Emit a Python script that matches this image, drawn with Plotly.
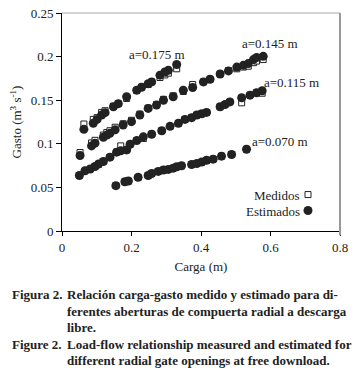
import plotly.graph_objects as go

# ---- data ----
x_175 = [0.063, 0.090, 0.101, 0.114, 0.124, 0.148, 0.162, 0.186, 0.215, 0.229, 0.248, 0.258, 0.282, 0.296, 0.306, 0.330]
est_175 = [0.1166, 0.1236, 0.128, 0.133, 0.1357, 0.1425, 0.146, 0.154, 0.1615, 0.1648, 0.169, 0.171, 0.1787, 0.1824, 0.1844, 0.191]
med_175 = [0.1227, 0.1280, 0.130, 0.136, 0.138, 0.143, 0.146, 0.152, 0.161, 0.165, 0.168, 0.171, 0.176, 0.179, 0.181, 0.186]

x_145 = [0.052, 0.085, 0.095, 0.119, 0.129, 0.138, 0.153, 0.176, 0.200, 0.224, 0.248, 0.272, 0.292, 0.320, 0.349,
         0.376, 0.407, 0.426, 0.455, 0.479, 0.503, 0.522, 0.536, 0.551, 0.560, 0.579]
est_145 = [0.0866, 0.0976, 0.1007, 0.1075, 0.110, 0.112, 0.116, 0.1216, 0.1254, 0.133, 0.1406, 0.1444, 0.150, 0.154, 0.1615,
           0.1646, 0.171, 0.174, 0.180, 0.1836, 0.188, 0.190, 0.192, 0.1966, 0.1990, 0.2003]
med_145 = [0.090, 0.101, 0.104, 0.110, 0.113, 0.115, 0.119, 0.123, 0.127, 0.134, 0.141, 0.145, 0.151, 0.155, 0.160,
           0.168, 0.171, 0.174, 0.180, 0.184, 0.186, 0.188, 0.189, 0.193, 0.1949, 0.1966]

x_115 = [0.050, 0.066, 0.081, 0.095, 0.105, 0.119, 0.138, 0.157, 0.169, 0.186, 0.196, 0.215, 0.234, 0.258, 0.287,
         0.311, 0.335, 0.354, 0.373, 0.388, 0.402, 0.416, 0.455, 0.469, 0.483, 0.517, 0.541, 0.560, 0.576]
est_115 = [0.0637, 0.069, 0.071, 0.074, 0.0767, 0.0797, 0.0847, 0.0904, 0.0919, 0.093, 0.0995, 0.1037, 0.108, 0.111, 0.115,
           0.120, 0.1235, 0.128, 0.130, 0.133, 0.1345, 0.136, 0.1425, 0.145, 0.148, 0.1528, 0.1558, 0.1585, 0.1608]
med_115 = [0.0637, 0.069, 0.071, 0.074, 0.0767, 0.0797, 0.0847, 0.0904, 0.0976, 0.093, 0.0995, 0.1037, 0.106, 0.111, 0.115,
           0.120, 0.1235, 0.128, 0.130, 0.133, 0.1345, 0.136, 0.1425, 0.145, 0.148, 0.147, 0.1558, 0.1585, 0.158]

x_070 = [0.155, 0.181, 0.191, 0.219, 0.248, 0.258, 0.277, 0.292, 0.306, 0.320, 0.330, 0.344, 0.373, 0.388, 0.402,
         0.416, 0.435, 0.459, 0.488, 0.531]
est_070 = [0.052, 0.0565, 0.0573, 0.0615, 0.0637, 0.066, 0.0683, 0.070, 0.0706, 0.0721, 0.0736, 0.0748, 0.0763, 0.0774, 0.079,
           0.081, 0.0824, 0.0858, 0.0877, 0.0938]
med_070 = [0.052, 0.0565, 0.0573, 0.0615, 0.0637, 0.066, 0.0683, 0.070, 0.0706, 0.0721, 0.0736, 0.0748, 0.0763, 0.0774, 0.079,
           0.081, 0.0824, 0.0858, 0.0877, 0.0938]

labels = ["a=0.175 m", "a=0.145 m", "a=0.115 m", "a=0.070 m"]
label_x = [0.273, 0.599, 0.659, 0.627]
label_y = [0.2026, 0.215, 0.1707, 0.1025]

FONT = "'Liberation Serif', 'DejaVu Serif', serif"
INK = "#222222"

x_all = x_175 + x_145 + x_115 + x_070
med_all = med_175 + med_145 + med_115 + med_070
est_all = est_175 + est_145 + est_115 + est_070

fig = go.Figure()
fig.add_trace(go.Scatter(
    x=x_all, y=med_all, mode="markers", name=" ", legend="legend",
    marker=dict(symbol="square", size=6, color="white", line=dict(color=INK, width=1)),
))
fig.add_trace(go.Scatter(
    x=x_all, y=est_all, mode="markers", name=" ", legend="legend2",
    marker=dict(symbol="circle", size=9, color=INK, line=dict(width=0)),
))

# page body has an 8 px default margin; the figure is sized to fit the window
OFF = 8
W, H = 363 - OFF, 381 - OFF
PL, PR, PT, PB = 62, 340, 13, 231.5          # plot area in window pixels
L, T = PL - OFF, PT - OFF
R = W - (PR - OFF)
B = H - (PB - OFF)
pw, ph = W - L - R, H - T - B


def px_to_paper(xp, yp):
    return (xp - PL) / pw, (PB - yp) / ph


annotations = []
for t, xx, yy in zip(labels, label_x, label_y):
    annotations.append(dict(x=xx, y=yy, xref="x", yref="y", text=t, showarrow=False,
                            font=dict(family=FONT, size=13, color=INK)))

# legend text to the left of legend symbols
for t, yp in [("Medidos", 196), ("Estimados", 212)]:
    ax, ay = px_to_paper(302, yp)
    annotations.append(dict(x=ax, y=ay, xref="paper", yref="paper", text=t, showarrow=False,
                            xanchor="right", yanchor="middle",
                            font=dict(family=FONT, size=13, color=INK)))

# caption
cap = [
    (10, 295, "Figura 2."), (65, 295, "Relación carga-gasto medido y estimado para di-"),
    (65, 311.7, "ferentes aberturas de compuerta radial a descarga"),
    (65, 328.3, "libre."),
    (10, 345.7, "Figure 2."), (65, 345.7, "Load-flow relationship measured and estimated for"),
    (65, 361.7, "different radial gate openings at free download."),
]
for xp, yp, t in cap:
    ax, ay = px_to_paper(xp, yp)
    annotations.append(dict(x=ax, y=ay, xref="paper", yref="paper", text="<b>" + t + "</b>",
                            showarrow=False, xanchor="left", yanchor="middle",
                            font=dict(family=FONT, size=13, color=INK)))

l1x, l1y = px_to_paper(288, 180)
l2x, l2y = px_to_paper(288, 196)
leg_common = dict(xanchor="left", yanchor="top", bgcolor="rgba(0,0,0,0)",
                  font=dict(family=FONT, size=13), itemwidth=30)

fig.update_layout(
    width=W, height=H,
    margin=dict(l=L, r=R, t=T, b=B, autoexpand=False),
    paper_bgcolor="white", plot_bgcolor="white",
    showlegend=True,
    legend=dict(x=l1x, y=l1y, **leg_common),
    legend2=dict(x=l2x, y=l2y, **leg_common),
    annotations=annotations,
    shapes=[
        dict(type="line", xref="paper", yref="paper", x0=0, x1=1, y0=1, y1=1,
             line=dict(color="#aaaaaa", width=1)),
        dict(type="line", xref="paper", yref="paper", x0=1, x1=1, y0=-0.02, y1=1,
             line=dict(color="#999999", width=2)),
    ],
)
fig.update_xaxes(
    range=[0, 0.8], tickvals=[0, 0.2, 0.4, 0.6, 0.8], ticktext=["0", "0.2", "0.4", "0.6", "0.8"],
    showgrid=False, zeroline=False, showline=True, linecolor="black", linewidth=1,
    ticks="outside", ticklen=4, tickcolor="black", automargin=False, ticklabeloverflow="allow",
    tickfont=dict(family=FONT, size=13, color=INK),
    title=dict(text="Carga (m)", font=dict(family=FONT, size=13, color=INK), standoff=8),
)
fig.update_yaxes(
    range=[0, 0.25], tickvals=[0, 0.05, 0.1, 0.15, 0.2, 0.25],
    ticktext=["0", "0.05", "0.1", "0.15", "0.2", "0.25"],
    showgrid=False, zeroline=False, showline=True, linecolor="black", linewidth=1,
    ticks="outside", ticklen=5, tickcolor="black", automargin=False, ticklabeloverflow="allow",
    tickfont=dict(family=FONT, size=13, color=INK),
    title=dict(text="Gasto (m<sup>3</sup> s<sup>-1</sup>)", font=dict(family=FONT, size=13, color=INK), standoff=9),
)

fig.write_html("out.html")
